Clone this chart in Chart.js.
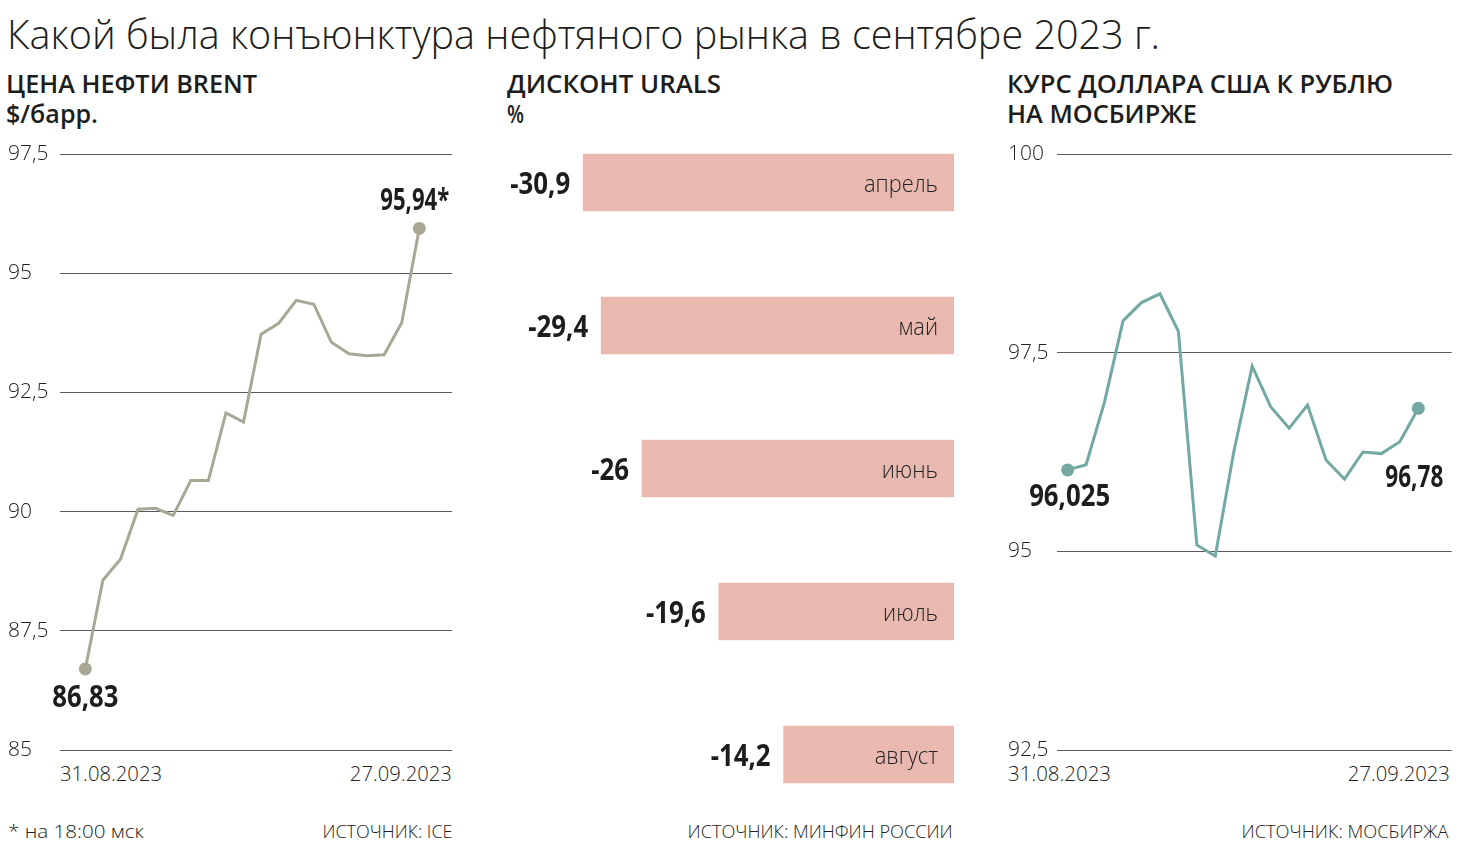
<!DOCTYPE html>
<html><head><meta charset="utf-8">
<script src="https://cdn.jsdelivr.net/npm/chart.js@4.4.0/dist/chart.umd.min.js"></script>
<style>
html,body{margin:0;padding:0;background:#fff}
body{width:1470px;height:860px;position:relative;overflow:hidden;font-family:"Open Sans",sans-serif;color:#1d1d1b}
.t{position:absolute;white-space:nowrap;line-height:1;transform-origin:left top}
.t.r{transform-origin:right top}
.title{font-size:40px;font-weight:300}
.sub{font-size:25px;font-weight:600}
.src{font-size:19px;font-weight:300;color:#222}
.date{font-size:20px;font-weight:300;color:#222}
canvas{position:absolute}
</style></head>
<body>
<div class="t title" style="left:7px;top:14px" data-w="1153">Какой была конъюнктура нефтяного рынка в сентябре 2023 г.</div>
<div class="t sub" style="left:6px;top:71px" data-w="251">ЦЕНА НЕФТИ BRENT</div>
<div class="t sub" style="left:6px;top:101px" data-w="92">$/барр.</div>
<div class="t sub" style="left:507px;top:71px" data-w="214">ДИСКОНТ URALS</div>
<div class="t sub" style="left:507px;top:101px" data-w="17">%</div>
<div class="t sub" style="left:1007px;top:71px" data-w="386">КУРС ДОЛЛАРА США К РУБЛЮ</div>
<div class="t sub" style="left:1007px;top:101px" data-w="190">НА МОСБИРЖЕ</div>

<div class="t date" id="d1" style="left:60px;top:764px" data-w="102"></div>
<div class="t date r" id="d2" style="right:1018px;top:764px" data-w="102"></div>
<div class="t date" id="d3" style="left:1008px;top:764px" data-w="103"></div>
<div class="t date r" id="d4" style="right:20px;top:764px" data-w="102"></div>

<div class="t src" style="left:8px;top:822px" data-w="136">* на 18:00 мск</div>
<div class="t src r" style="right:1018px;top:822px" data-w="130">ИСТОЧНИК: ICE</div>
<div class="t src r" style="right:517px;top:822px" data-w="265">ИСТОЧНИК: МИНФИН РОССИИ</div>
<div class="t src r" style="right:22px;top:822px" data-w="207">ИСТОЧНИК: МОСБИРЖА</div>

<canvas id="c1" width="470" height="640" style="left:0;top:130px;width:470px;height:640px"></canvas>
<canvas id="c2" width="470" height="740" style="left:500px;top:100px;width:470px;height:740px"></canvas>
<canvas id="c3" width="470" height="640" style="left:1000px;top:130px;width:470px;height:640px"></canvas>

<script>
// ---------- DATA ----------
const tradingDays = ['31.08.2023','01.09.2023','04.09.2023','05.09.2023','06.09.2023','07.09.2023','08.09.2023',
  '11.09.2023','12.09.2023','13.09.2023','14.09.2023','15.09.2023','18.09.2023','19.09.2023','20.09.2023',
  '21.09.2023','22.09.2023','25.09.2023','26.09.2023','27.09.2023'];
const brentValues = [86.7, 88.56, 89.0, 90.05, 90.07, 89.92, 90.65, 90.65, 92.07, 91.88,
  93.72, 93.95, 94.43, 94.35, 93.55, 93.31, 93.27, 93.29, 93.96, 95.94];
const usdRubValues = [96.025, 96.09, 96.88, 97.90, 98.13, 98.24, 97.77, 95.08, 94.94, 96.25,
  97.33, 96.82, 96.55, 96.84, 96.15, 95.91, 96.25, 96.23, 96.38, 96.8];
const months = ['апрель','май','июнь','июль','август'];
const uralsDiscount = [-30.9, -29.4, -26, -19.6, -14.2];
const uralsLabels = ['-30,9','-29,4','-26','-19,6','-14,2'];
const brentTicks = [85, 87.5, 90, 92.5, 95, 97.5];
const usdTicks = [92.5, 95, 97.5, 100];
const brentEndLabels = ['86,83', '95,94*'];
const usdEndLabels = ['96,025', '96,78'];
const axisDates = ['31.08.2023', '27.09.2023'];

// ---------- TEXT ----------
document.getElementById('d1').textContent = axisDates[0];
document.getElementById('d2').textContent = axisDates[1];
document.getElementById('d3').textContent = axisDates[0];
document.getElementById('d4').textContent = axisDates[1];
function fitAll(){
  document.querySelectorAll('.t[data-w]').forEach(el=>{
    el.style.transform='none';
    const w = el.getBoundingClientRect().width;
    const target = +el.dataset.w;
    if (w>0) el.style.transform = 'scaleX(' + (target/w) + ')';
  });
}
fitAll();

const FONT = '"Open Sans", sans-serif';
const TXT = '#1d1d1b';
const GRID = '#5a5a5a';
const fmt = v => String(v).replace('.', ',');

function condensedText(ctx, text, x, y, align, size, weight, scale, color, width){
  ctx.save();
  ctx.font = weight + ' ' + size + 'px ' + FONT;
  ctx.fillStyle = color || TXT;
  ctx.textBaseline = 'middle';
  const raw = ctx.measureText(text).width;
  if (width) scale = width / raw;
  const w = raw * scale;
  let left = x;
  if (align === 'right') left = x - w; else if (align === 'center') left = x - w/2;
  ctx.translate(left, y);
  ctx.scale(scale, 1);
  ctx.textAlign = 'left';
  ctx.fillText(text, 0, 0);
  ctx.restore();
}

const endLabelPlugin = {
  id: 'endLabels',
  afterDatasetsDraw(chart, args, opts){
    const meta = chart.getDatasetMeta(0);
    const ctx = chart.ctx;
    (opts.items || []).forEach(it=>{
      const p = meta.data[it.index];
      condensedText(ctx, it.text, p.x + it.dx, p.y + it.dy, it.align, 30, 'bold', 0.86, TXT, it.w);
    });
  }
};

function lineChart(id, values, color, ticks, yMin, yMax, xMin, xMax, pad, axisW, items){
  const last = values.length - 1;
  return new Chart(document.getElementById(id), {
    type: 'line',
    data: {
      labels: tradingDays,
      datasets: [{
        data: values.map((v,i)=>({x:i, y:v})),
        borderColor: color,
        backgroundColor: color,
        borderWidth: 3,
        tension: 0,
        pointRadius: ctx => (ctx.dataIndex === 0 || ctx.dataIndex === last) ? 6.5 : 0,
        pointHoverRadius: 0,
        pointBorderWidth: 0,
        clip: false
      }]
    },
    options: {
      responsive: false,
      animation: false,
      events: [],
      layout: { padding: pad },
      plugins: { legend: {display:false}, tooltip: {enabled:false}, endLabels: { items } },
      scales: {
        x: { type:'linear', min:xMin, max:xMax, display:false },
        y: {
          min: yMin, max: yMax,
          afterBuildTicks: s => { s.ticks = ticks.map(v=>({value:v})); },
          afterFit: s => { s.width = axisW; },
          border: { display:false },
          grid: { color: GRID, lineWidth: 1, drawTicks: false },
          ticks: { crossAlign:'far', padding:0, color:'#222',
            font: { family: FONT, size: 21, weight: '300' },
            callback: v => fmt(v) }
        }
      }
    },
    plugins: [endLabelPlugin]
  });
}

lineChart('c1', brentValues, '#a9a795', brentTicks, 85, 97.5, -1.44, 20.86,
  {left:8, top:24, right:18, bottom:20}, 52,
  [{index:0, text:brentEndLabels[0], dx:0, dy:30, align:'center', w:66},
   {index:19, text:brentEndLabels[1], dx:30, dy:-27, align:'right', w:69}]);

lineChart('c3', usdRubValues, '#72a9a2', usdTicks, 92.5, 100, -0.56, 20.81,
  {left:8, top:24, right:18.3, bottom:20}, 49.3,
  [{index:0, text:usdEndLabels[0], dx:2, dy:28, align:'center', w:81},
   {index:19, text:usdEndLabels[1], dx:-4, dy:70, align:'center', w:58}]);

// ---------- BAR CHART ----------
const barLabelPlugin = {
  id: 'barLabels',
  afterDatasetsDraw(chart){
    const meta = chart.getDatasetMeta(0);
    const ctx = chart.ctx;
    meta.data.forEach((bar, i)=>{
      condensedText(ctx, uralsLabels[i], bar.x - 13, bar.y + 3, 'right', 30, 'bold', 0.86);
      condensedText(ctx, months[i], bar.base - 16, bar.y + 3, 'right', 23, '300', 0.95, '#222');
    });
  }
};
new Chart(document.getElementById('c2'), {
  type: 'bar',
  data: { labels: months, datasets: [{ data: uralsDiscount, backgroundColor: '#e9b9b0', borderWidth: 0, barThickness: 57 }] },
  options: {
    indexAxis: 'y',
    responsive: false,
    animation: false,
    events: [],
    layout: { padding: {left:10, right:16, top:11, bottom:14} },
    plugins: { legend:{display:false}, tooltip:{enabled:false} },
    scales: {
      x: { type:'linear', min:-37, max:0, display:false },
      y: { display:false }
    }
  },
  plugins: [barLabelPlugin]
});
</script>
</body></html>
